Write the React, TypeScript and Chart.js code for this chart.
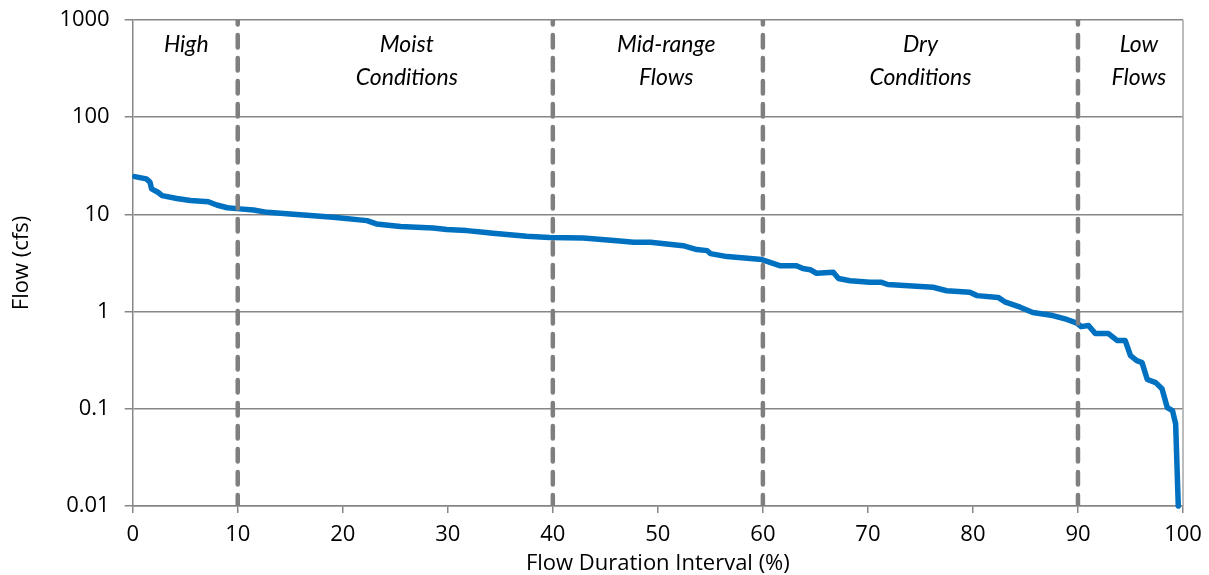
import React, { useEffect, useRef } from "react";
import { Chart, registerables } from "chart.js";

Chart.register(...registerables);

// Flow duration curve (percent of time exceeded, flow in cfs)
const flowPct: number[] = [
  0.2, 1.3, 1.65, 1.8, 2.4, 2.8, 4.2, 5.5, 7.2, 8.0, 9.0, 10.2, 11.5, 12.8, 15.0,
  19.1, 22.3, 23.2, 25.5, 28.6, 29.9, 31.8, 33.4, 34.3, 37.5, 39.7, 42.9, 46.1,
  47.7, 49.3, 52.4, 53.7, 54.7, 55.0, 56.6, 58.8, 59.9, 61.6, 63.2, 63.8, 64.5,
  65.1, 66.7, 67.2, 68.3, 70.2, 71.3, 71.9, 76.2, 77.5, 79.7, 80.4, 82.4, 83.1,
  84.5, 85.7, 87.6, 88.95, 89.9, 90.3, 91.0, 91.65, 92.9, 93.75, 94.5, 95.0, 95.6,
  96.1, 96.6, 97.4, 98.0, 98.5, 99.0, 99.3, 99.55,
];
const flowCfs: number[] = [
  24.5, 23.2, 21.4, 18.3, 16.9, 15.6, 14.6, 13.9, 13.5, 12.5, 11.7, 11.4, 11.1, 10.5, 10.1,
  9.33, 8.63, 7.98, 7.49, 7.26, 6.98, 6.81, 6.55, 6.39, 5.95, 5.8, 5.73, 5.37,
  5.16, 5.16, 4.77, 4.35, 4.24, 3.95, 3.68, 3.51, 3.43, 2.97, 2.97, 2.77, 2.7,
  2.48, 2.54, 2.19, 2.08, 2.0, 2.0, 1.9, 1.78, 1.64, 1.58, 1.46, 1.4, 1.25,
  1.11, 0.98, 0.91, 0.83, 0.76, 0.7, 0.72, 0.594, 0.594, 0.503, 0.503, 0.352, 0.313,
  0.299, 0.2, 0.186, 0.161, 0.103, 0.096, 0.07, 0.01,
];

// Flow regime boundaries and zone labels
const zoneBoundaries: number[] = [10, 40, 60, 90];
const zoneLabelLines: string[][] = [
  ["High"],
  ["Moist", "Conditions"],
  ["Mid-range", "Flows"],
  ["Dry", "Conditions"],
  ["Low", "Flows"],
];
const zoneLabelX: number[] = [5.1, 26.1, 50.8, 75.0, 95.8];

const yTickValues: number[] = [0.01, 0.1, 1, 10, 100, 1000];
const yTickLabels: string[] = ["0.01", "0.1", "1", "10", "100", "1000"];

const FONT = "'Open Sans', sans-serif";
const ITALIC_FONT = "Lato, 'Open Sans', sans-serif";

export default function App() {
  const canvasRef = useRef<HTMLCanvasElement | null>(null);

  useEffect(() => {
    const canvas = canvasRef.current;
    if (!canvas) return;

    const curve = flowPct.map((x, i) => ({ x, y: flowCfs[i] }));
    const dashSets = zoneBoundaries.map((b) => ({
      type: "line" as const,
      data: [
        { x: b, y: 1000 },
        { x: b, y: 0.01 },
      ],
      borderColor: "#7f7f7f",
      borderWidth: 4.5,
      borderDash: [12.5, 10.5],
      borderDashOffset: 8,
      borderCapStyle: "round" as const,
      pointRadius: 0,
      order: 0,
    }));

    const annot = {
      id: "annot",
      beforeDatasetsDraw(chart: any) {
        const { ctx, chartArea } = chart;
        ctx.save();
        ctx.strokeStyle = "#a6a6a6";
        ctx.lineWidth = 1.5;
        ctx.beginPath();
        ctx.moveTo(chartArea.right, chartArea.top);
        ctx.lineTo(chartArea.right, chartArea.bottom);
        ctx.stroke();
        ctx.restore();
      },
      afterDraw(chart: any) {
        const { ctx } = chart;
        const xs = chart.scales.x;
        ctx.save();
        ctx.fillStyle = "#000";
        ctx.font = `italic 23px ${ITALIC_FONT}`;
        ctx.textAlign = "center";
        ctx.textBaseline = "alphabetic";
        zoneLabelLines.forEach((lines, i) => {
          const px = xs.getPixelForValue(zoneLabelX[i]);
          lines.forEach((t, j) => {
            ctx.fillText(t, px, 52 + j * 33);
          });
        });
        ctx.restore();
      },
    };

    const chart = new Chart(canvas, {
      type: "line",
      data: {
        datasets: [
          ...dashSets,
          {
            type: "line",
            data: curve,
            borderColor: "#0070c0",
            borderWidth: 5.5,
            borderCapStyle: "round",
            borderJoinStyle: "round",
            pointRadius: 0,
            tension: 0,
            clip: false as any,
            order: 1,
          },
        ] as any,
      },
      options: {
        responsive: false,
        animation: false,
        layout: { padding: { top: 20, right: 26, left: 0, bottom: 0 } },
        plugins: {
          legend: { display: false },
          tooltip: { enabled: false },
        },
        scales: {
          x: {
            type: "linear",
            min: 0,
            max: 100,
            afterFit: (s: any) => {
              s.height = 69;
              s.paddingLeft = 0;
              s.paddingRight = 0;
            },
            ticks: {
              stepSize: 10,
              color: "#000",
              font: { family: FONT, size: 22 },
              padding: 9,
            },
            grid: {
              display: true,
              drawOnChartArea: false,
              drawTicks: true,
              tickLength: 7,
              color: "#868686",
              lineWidth: 1.5,
            },
            border: { display: true, color: "#868686", width: 1.5 },
            title: {
              display: true,
              text: "Flow Duration Interval (%)",
              color: "#000",
              font: { family: FONT, size: 22 },
              padding: { top: 0, bottom: -2 },
            },
          },
          y: {
            type: "logarithmic",
            min: 0.01,
            max: 1000,
            afterFit: (s: any) => {
              s.width = 132.7;
              s.paddingTop = 0;
              s.paddingBottom = 0;
            },
            afterBuildTicks: (s: any) => {
              s.ticks = yTickValues.map((v) => ({ value: v }));
            },
            ticks: {
              color: "#000",
              font: { family: FONT, size: 22 },
              padding: 15,
              callback: (v: any) => {
                const idx = yTickValues.findIndex((t) => Math.abs(t - Number(v)) < 1e-9);
                return idx >= 0 ? yTickLabels[idx] : "";
              },
            },
            grid: {
              color: "#868686",
              lineWidth: 1.5,
              tickLength: 8,
            },
            border: { display: true, color: "#868686", width: 1.5 },
            title: {
              display: true,
              text: "Flow (cfs)",
              color: "#000",
              font: { family: FONT, size: 22 },
              padding: { top: 9, bottom: 0 },
            },
          },
        },
      } as any,
      plugins: [annot],
    });

    return () => chart.destroy();
  }, []);

  return (
    <div style={{ position: "absolute", left: 0, top: 0, width: 1209, height: 575, background: "#fff" }}>
      <canvas ref={canvasRef} width={1209} height={575} />
    </div>
  );
}
